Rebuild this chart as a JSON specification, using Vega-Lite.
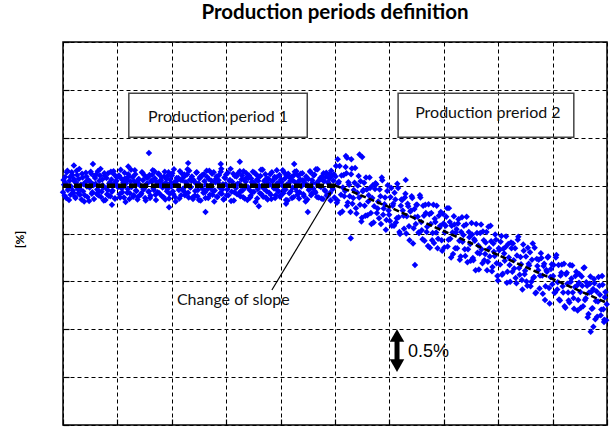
{
  "$schema": "https://vega.github.io/schema/vega-lite/v6.json",
  "width": 544,
  "height": 383,
  "autosize": {"type": "none"},
  "padding": {"left": 63, "top": 42, "right": 7, "bottom": 2},
  "background": "white",
  "title": {"text": "Production periods definition", "font": "Lato", "fontSize": 20.5, "fontWeight": "bold", "color": "#000", "anchor": "middle", "baseline": "alphabetic", "frame": "group", "offset": 2},
  "config": {
    "view": {"stroke": "#000", "strokeWidth": 1.5},
    "axis": {"grid": true, "gridColor": "#000", "gridDash": [4, 3], "gridWidth": 1, "gridOpacity": 1, "labels": false, "domain": false, "ticks": true, "tickSize": -6, "tickColor": "#000", "tickWidth": 1.2}
  },
  "datasets": {
    "pts": [
      {"x":0.01,"y":5.12},{"x":0.03,"y":4.79},{"x":0.05,"y":5.05},{"x":0.07,"y":5.28},{"x":0.09,"y":4.91},{"x":0.11,"y":4.70},{"x":0.13,"y":5.18},{"x":0.15,"y":4.98},{"x":0.17,"y":5.22},{"x":0.19,"y":4.85},
      {"x":0.21,"y":5.09},{"x":0.23,"y":4.74},{"x":0.25,"y":5.31},{"x":0.27,"y":4.93},{"x":0.29,"y":5.14},{"x":0.31,"y":4.81},{"x":0.33,"y":5.02},{"x":0.35,"y":5.25},{"x":0.37,"y":4.88},{"x":0.39,"y":4.67},
      {"x":0.41,"y":5.07},{"x":0.43,"y":5.19},{"x":0.45,"y":4.76},{"x":0.47,"y":5.11},{"x":0.49,"y":4.96},{"x":0.51,"y":5.29},{"x":0.53,"y":4.83},{"x":0.55,"y":5.03},{"x":0.57,"y":4.72},{"x":0.59,"y":5.16},
      {"x":0.61,"y":5.23},{"x":0.63,"y":4.92},{"x":0.65,"y":4.80},{"x":0.67,"y":5.10},{"x":0.69,"y":5.35},{"x":0.71,"y":4.87},{"x":0.73,"y":5.01},{"x":0.75,"y":4.69},{"x":0.77,"y":5.20},{"x":0.79,"y":4.95},
      {"x":0.81,"y":4.82},{"x":0.83,"y":5.26},{"x":0.85,"y":5.04},{"x":0.87,"y":4.78},{"x":0.89,"y":5.13},{"x":0.91,"y":4.90},{"x":0.93,"y":5.30},{"x":0.95,"y":4.73},{"x":0.97,"y":5.08},{"x":0.99,"y":5.17},
      {"x":1.01,"y":4.97},{"x":1.03,"y":5.21},{"x":1.05,"y":4.75},{"x":1.07,"y":5.15},{"x":1.09,"y":4.86},{"x":1.11,"y":5.06},{"x":1.13,"y":5.27},{"x":1.15,"y":4.66},{"x":1.17,"y":5.12},{"x":1.19,"y":4.93},
      {"x":1.21,"y":5.19},{"x":1.23,"y":4.84},{"x":1.25,"y":5.33},{"x":1.27,"y":4.99},{"x":1.29,"y":4.77},{"x":1.31,"y":5.09},{"x":1.33,"y":5.24},{"x":1.35,"y":4.89},{"x":1.37,"y":4.71},{"x":1.39,"y":5.14},
      {"x":1.41,"y":5.02},{"x":1.43,"y":4.81},{"x":1.45,"y":5.28},{"x":1.47,"y":5.11},{"x":1.49,"y":4.94},{"x":1.51,"y":4.74},{"x":1.53,"y":5.17},{"x":1.55,"y":5.05},{"x":1.57,"y":4.87},{"x":1.59,"y":5.22},
      {"x":1.61,"y":4.79},{"x":1.63,"y":5.08},{"x":1.65,"y":5.32},{"x":1.67,"y":4.91},{"x":1.69,"y":5.15},{"x":1.71,"y":4.70},{"x":1.73,"y":5.03},{"x":1.75,"y":5.25},{"x":1.77,"y":4.84},{"x":1.79,"y":5.10},
      {"x":1.81,"y":5.18},{"x":1.83,"y":4.96},{"x":1.85,"y":4.76},{"x":1.87,"y":5.29},{"x":1.89,"y":5.06},{"x":1.91,"y":4.88},{"x":1.93,"y":5.21},{"x":1.95,"y":4.73},{"x":1.97,"y":5.13},{"x":1.99,"y":4.98},
      {"x":2.01,"y":5.26},{"x":2.03,"y":4.82},{"x":2.05,"y":5.07},{"x":2.07,"y":4.67},{"x":2.09,"y":5.16},{"x":2.11,"y":5.01},{"x":2.13,"y":4.91},{"x":2.15,"y":5.30},{"x":2.17,"y":4.80},{"x":2.19,"y":5.11},
      {"x":2.21,"y":4.94},{"x":2.23,"y":5.23},{"x":2.25,"y":4.85},{"x":2.27,"y":5.04},{"x":2.29,"y":5.34},{"x":2.31,"y":4.75},{"x":2.33,"y":5.12},{"x":2.35,"y":4.97},{"x":2.37,"y":5.19},{"x":2.39,"y":4.72},
      {"x":2.41,"y":5.09},{"x":2.43,"y":4.89},{"x":2.45,"y":5.27},{"x":2.47,"y":4.78},{"x":2.49,"y":5.05},{"x":2.51,"y":5.15},{"x":2.53,"y":4.69},{"x":2.55,"y":5.20},{"x":2.57,"y":4.93},{"x":2.59,"y":5.24},
      {"x":2.61,"y":4.86},{"x":2.63,"y":5.02},{"x":2.65,"y":5.18},{"x":2.67,"y":4.74},{"x":2.69,"y":5.31},{"x":2.71,"y":4.95},{"x":2.73,"y":5.10},{"x":2.75,"y":4.81},{"x":2.77,"y":5.28},{"x":2.79,"y":4.90},
      {"x":2.81,"y":5.14},{"x":2.83,"y":4.77},{"x":2.85,"y":5.06},{"x":2.87,"y":5.22},{"x":2.89,"y":4.84},{"x":2.91,"y":5.35},{"x":2.93,"y":4.92},{"x":2.95,"y":4.71},{"x":2.97,"y":5.17},{"x":2.99,"y":5.03},
      {"x":3.01,"y":4.80},{"x":3.03,"y":5.27},{"x":3.05,"y":4.98},{"x":3.07,"y":5.12},{"x":3.09,"y":4.68},{"x":3.11,"y":5.08},{"x":3.13,"y":5.25},{"x":3.15,"y":4.86},{"x":3.17,"y":5.01},{"x":3.19,"y":5.19},
      {"x":3.21,"y":5.04},{"x":3.23,"y":4.83},{"x":3.25,"y":5.30},{"x":3.27,"y":4.89},{"x":3.29,"y":5.21},{"x":3.31,"y":4.76},{"x":3.33,"y":5.13},{"x":3.35,"y":4.96},{"x":3.37,"y":5.26},{"x":3.39,"y":4.70},
      {"x":3.41,"y":5.16},{"x":3.43,"y":4.91},{"x":3.45,"y":4.79},{"x":3.47,"y":5.07},{"x":3.49,"y":5.29},{"x":3.51,"y":4.87},{"x":3.53,"y":5.02},{"x":3.55,"y":5.23},{"x":3.57,"y":4.73},{"x":3.59,"y":5.10},
      {"x":3.61,"y":4.99},{"x":3.63,"y":5.20},{"x":3.65,"y":4.82},{"x":3.67,"y":5.33},{"x":3.69,"y":4.94},{"x":3.71,"y":5.11},{"x":3.73,"y":4.75},{"x":3.75,"y":5.15},{"x":3.77,"y":5.05},{"x":3.79,"y":4.85},
      {"x":3.81,"y":5.24},{"x":3.83,"y":4.72},{"x":3.85,"y":5.09},{"x":3.87,"y":4.97},{"x":3.89,"y":5.18},{"x":3.91,"y":4.80},{"x":3.93,"y":5.32},{"x":3.95,"y":4.90},{"x":3.97,"y":5.06},{"x":3.99,"y":4.77},
      {"x":4.01,"y":5.13},{"x":4.03,"y":5.00},{"x":4.05,"y":4.84},{"x":4.07,"y":5.27},{"x":4.09,"y":4.92},{"x":4.11,"y":5.21},{"x":4.13,"y":4.69},{"x":4.15,"y":5.04},{"x":4.17,"y":5.17},{"x":4.19,"y":4.88},
      {"x":4.21,"y":4.74},{"x":4.23,"y":5.10},{"x":4.25,"y":5.22},{"x":4.27,"y":4.95},{"x":4.29,"y":5.30},{"x":4.31,"y":4.81},{"x":4.33,"y":5.08},{"x":4.35,"y":4.86},{"x":4.37,"y":5.25},{"x":4.39,"y":5.01},
      {"x":4.41,"y":5.11},{"x":4.43,"y":4.78},{"x":4.45,"y":5.03},{"x":4.47,"y":5.19},{"x":4.49,"y":4.71},{"x":4.51,"y":5.14},{"x":4.53,"y":4.93},{"x":4.55,"y":5.28},{"x":4.57,"y":4.83},{"x":4.59,"y":5.06},
      {"x":4.61,"y":5.21},{"x":4.63,"y":4.88},{"x":4.65,"y":5.34},{"x":4.67,"y":4.76},{"x":4.69,"y":5.09},{"x":4.71,"y":4.99},{"x":4.73,"y":5.16},{"x":4.75,"y":4.73},{"x":4.77,"y":5.12},{"x":4.79,"y":5.26},
      {"x":4.81,"y":4.91},{"x":4.83,"y":5.18},{"x":4.85,"y":4.80},{"x":4.87,"y":5.07},{"x":4.89,"y":5.23},{"x":4.91,"y":4.85},{"x":4.93,"y":5.31},{"x":4.95,"y":4.96},{"x":4.97,"y":5.10},{"x":4.99,"y":4.75},
      {"x":0.00,"y":4.86},{"x":0.02,"y":5.02},{"x":0.04,"y":5.18},{"x":0.06,"y":4.74},{"x":0.08,"y":5.31},{"x":0.10,"y":4.95},{"x":0.12,"y":5.10},{"x":0.14,"y":4.81},{"x":0.16,"y":5.28},{"x":0.18,"y":4.90},
      {"x":0.20,"y":5.14},{"x":0.22,"y":4.77},{"x":0.24,"y":5.06},{"x":0.26,"y":5.22},{"x":0.28,"y":4.84},{"x":0.30,"y":5.35},{"x":0.32,"y":4.92},{"x":0.34,"y":4.71},{"x":0.36,"y":5.17},{"x":0.38,"y":5.03},
      {"x":0.40,"y":4.80},{"x":0.42,"y":5.27},{"x":0.44,"y":4.98},{"x":0.46,"y":5.12},{"x":0.48,"y":4.68},{"x":0.50,"y":5.08},{"x":0.52,"y":5.25},{"x":0.54,"y":4.86},{"x":0.56,"y":5.01},{"x":0.58,"y":5.19},
      {"x":0.60,"y":5.04},{"x":0.62,"y":4.83},{"x":0.64,"y":5.30},{"x":0.66,"y":4.89},{"x":0.68,"y":5.21},{"x":0.70,"y":4.76},{"x":0.72,"y":5.13},{"x":0.74,"y":4.96},{"x":0.76,"y":5.26},{"x":0.78,"y":4.70},
      {"x":0.80,"y":5.16},{"x":0.82,"y":4.91},{"x":0.84,"y":4.79},{"x":0.86,"y":5.07},{"x":0.88,"y":5.29},{"x":0.90,"y":4.87},{"x":0.92,"y":5.02},{"x":0.94,"y":5.23},{"x":0.96,"y":4.73},{"x":0.98,"y":5.10},
      {"x":1.00,"y":4.99},{"x":1.02,"y":5.20},{"x":1.04,"y":4.82},{"x":1.06,"y":5.33},{"x":1.08,"y":4.94},{"x":1.10,"y":5.11},{"x":1.12,"y":4.75},{"x":1.14,"y":5.15},{"x":1.16,"y":5.05},{"x":1.18,"y":4.85},
      {"x":1.20,"y":5.24},{"x":1.22,"y":4.72},{"x":1.24,"y":5.09},{"x":1.26,"y":4.97},{"x":1.28,"y":5.18},{"x":1.30,"y":4.80},{"x":1.32,"y":5.32},{"x":1.34,"y":4.90},{"x":1.36,"y":5.06},{"x":1.38,"y":4.77},
      {"x":1.40,"y":5.13},{"x":1.42,"y":5.00},{"x":1.44,"y":4.84},{"x":1.46,"y":5.27},{"x":1.48,"y":4.92},{"x":1.50,"y":5.21},{"x":1.52,"y":4.69},{"x":1.54,"y":5.04},{"x":1.56,"y":5.17},{"x":1.58,"y":4.88},
      {"x":1.60,"y":4.74},{"x":1.62,"y":5.10},{"x":1.64,"y":5.22},{"x":1.66,"y":4.95},{"x":1.68,"y":5.30},{"x":1.70,"y":4.81},{"x":1.72,"y":5.08},{"x":1.74,"y":4.86},{"x":1.76,"y":5.25},{"x":1.78,"y":5.01},
      {"x":1.80,"y":5.11},{"x":1.82,"y":4.78},{"x":1.84,"y":5.03},{"x":1.86,"y":5.19},{"x":1.88,"y":4.71},{"x":1.90,"y":5.14},{"x":1.92,"y":4.93},{"x":1.94,"y":5.28},{"x":1.96,"y":4.83},{"x":1.98,"y":5.06},
      {"x":2.00,"y":5.21},{"x":2.02,"y":4.88},{"x":2.04,"y":5.34},{"x":2.06,"y":4.76},{"x":2.08,"y":5.09},{"x":2.10,"y":4.99},{"x":2.12,"y":5.16},{"x":2.14,"y":4.73},{"x":2.16,"y":5.12},{"x":2.18,"y":5.26},
      {"x":2.20,"y":4.91},{"x":2.22,"y":5.18},{"x":2.24,"y":4.80},{"x":2.26,"y":5.07},{"x":2.28,"y":5.23},{"x":2.30,"y":4.85},{"x":2.32,"y":5.31},{"x":2.34,"y":4.96},{"x":2.36,"y":5.10},{"x":2.38,"y":4.75},
      {"x":2.40,"y":5.12},{"x":2.42,"y":4.79},{"x":2.44,"y":5.05},{"x":2.46,"y":5.28},{"x":2.48,"y":4.91},{"x":2.50,"y":4.70},{"x":2.52,"y":5.18},{"x":2.54,"y":4.98},{"x":2.56,"y":5.22},{"x":2.58,"y":4.85},
      {"x":2.60,"y":5.09},{"x":2.62,"y":4.74},{"x":2.64,"y":5.31},{"x":2.66,"y":4.93},{"x":2.68,"y":5.14},{"x":2.70,"y":4.81},{"x":2.72,"y":5.02},{"x":2.74,"y":5.25},{"x":2.76,"y":4.88},{"x":2.78,"y":4.67},
      {"x":2.80,"y":5.07},{"x":2.82,"y":5.19},{"x":2.84,"y":4.76},{"x":2.86,"y":5.11},{"x":2.88,"y":4.96},{"x":2.90,"y":5.29},{"x":2.92,"y":4.83},{"x":2.94,"y":5.03},{"x":2.96,"y":4.72},{"x":2.98,"y":5.16},
      {"x":3.00,"y":5.23},{"x":3.02,"y":4.92},{"x":3.04,"y":4.80},{"x":3.06,"y":5.10},{"x":3.08,"y":5.35},{"x":3.10,"y":4.87},{"x":3.12,"y":5.01},{"x":3.14,"y":4.69},{"x":3.16,"y":5.20},{"x":3.18,"y":4.95},
      {"x":3.20,"y":4.82},{"x":3.22,"y":5.26},{"x":3.24,"y":5.04},{"x":3.26,"y":4.78},{"x":3.28,"y":5.13},{"x":3.30,"y":4.90},{"x":3.32,"y":5.30},{"x":3.34,"y":4.73},{"x":3.36,"y":5.08},{"x":3.38,"y":5.17},
      {"x":3.40,"y":4.97},{"x":3.42,"y":5.21},{"x":3.44,"y":4.75},{"x":3.46,"y":5.15},{"x":3.48,"y":4.86},{"x":3.50,"y":5.06},{"x":3.52,"y":5.27},{"x":3.54,"y":4.66},{"x":3.56,"y":5.12},{"x":3.58,"y":4.93},
      {"x":3.60,"y":5.19},{"x":3.62,"y":4.84},{"x":3.64,"y":5.33},{"x":3.66,"y":4.99},{"x":3.68,"y":4.77},{"x":3.70,"y":5.09},{"x":3.72,"y":5.24},{"x":3.74,"y":4.89},{"x":3.76,"y":4.71},{"x":3.78,"y":5.14},
      {"x":3.80,"y":5.02},{"x":3.82,"y":4.81},{"x":3.84,"y":5.28},{"x":3.86,"y":5.11},{"x":3.88,"y":4.94},{"x":3.90,"y":4.74},{"x":3.92,"y":5.17},{"x":3.94,"y":5.05},{"x":3.96,"y":4.87},{"x":3.98,"y":5.22},
      {"x":4.00,"y":4.79},{"x":4.02,"y":5.08},{"x":4.04,"y":5.32},{"x":4.06,"y":4.91},{"x":4.08,"y":5.15},{"x":4.10,"y":4.70},{"x":4.12,"y":5.03},{"x":4.14,"y":5.25},{"x":4.16,"y":4.84},{"x":4.18,"y":5.10},
      {"x":4.20,"y":5.18},{"x":4.22,"y":4.96},{"x":4.24,"y":4.76},{"x":4.26,"y":5.29},{"x":4.28,"y":5.06},{"x":4.30,"y":4.88},{"x":4.32,"y":5.21},{"x":4.34,"y":4.73},{"x":4.36,"y":5.13},{"x":4.38,"y":4.98},
      {"x":4.40,"y":5.26},{"x":4.42,"y":4.82},{"x":4.44,"y":5.07},{"x":4.46,"y":4.67},{"x":4.48,"y":5.16},{"x":4.50,"y":5.01},{"x":4.52,"y":4.91},{"x":4.54,"y":5.30},{"x":4.56,"y":4.80},{"x":4.58,"y":5.11},
      {"x":4.60,"y":4.94},{"x":4.62,"y":5.23},{"x":4.64,"y":4.85},{"x":4.66,"y":5.04},{"x":4.68,"y":5.34},{"x":4.70,"y":4.75},{"x":4.72,"y":5.12},{"x":4.74,"y":4.97},{"x":4.76,"y":5.19},{"x":4.78,"y":4.72},
      {"x":4.80,"y":5.09},{"x":4.82,"y":4.89},{"x":4.84,"y":5.27},{"x":4.86,"y":4.78},{"x":4.88,"y":5.05},{"x":4.90,"y":5.15},{"x":4.92,"y":4.69},{"x":4.94,"y":5.20},{"x":4.96,"y":4.93},{"x":4.98,"y":5.24},
      {"x":1.58,"y":5.68},{"x":0.55,"y":5.45},{"x":0.2,"y":5.42},{"x":2.3,"y":5.47},{"x":3.25,"y":5.5},{"x":4.25,"y":5.45},{"x":4.5,"y":4.45},{"x":2.62,"y":4.45},{"x":1.95,"y":4.55},{"x":0.9,"y":4.6},{"x":3.6,"y":4.57},{"x":4.1,"y":4.62},{"x":2.9,"y":5.45},{"x":1.2,"y":5.4},
      {"x":5.010,"y":5.19},{"x":5.035,"y":4.64},{"x":5.060,"y":5.05},{"x":5.085,"y":5.41},{"x":5.110,"y":4.81},{"x":5.135,"y":4.46},{"x":5.160,"y":5.22},{"x":5.185,"y":4.89},{"x":5.210,"y":5.26},{"x":5.235,"y":4.65},
      {"x":5.260,"y":5.02},{"x":5.285,"y":4.45},{"x":5.310,"y":5.36},{"x":5.335,"y":4.74},{"x":5.360,"y":5.06},{"x":5.385,"y":4.53},{"x":5.410,"y":4.85},{"x":5.435,"y":5.20},{"x":5.460,"y":4.60},{"x":5.485,"y":4.25},
      {"x":5.510,"y":4.88},{"x":5.535,"y":5.06},{"x":5.560,"y":4.37},{"x":5.585,"y":4.92},{"x":5.610,"y":4.67},{"x":5.635,"y":5.17},{"x":5.660,"y":4.43},{"x":5.685,"y":4.74},{"x":5.710,"y":4.23},{"x":5.735,"y":4.93},
      {"x":5.760,"y":5.03},{"x":5.785,"y":4.52},{"x":5.810,"y":4.32},{"x":5.835,"y":4.78},{"x":5.860,"y":5.17},{"x":5.885,"y":4.39},{"x":5.910,"y":4.61},{"x":5.935,"y":4.08},{"x":5.960,"y":4.89},{"x":5.985,"y":4.48},
      {"x":6.010,"y":4.26},{"x":6.035,"y":4.95},{"x":6.060,"y":4.58},{"x":6.085,"y":4.16},{"x":6.110,"y":4.71},{"x":6.135,"y":4.32},{"x":6.160,"y":4.95},{"x":6.185,"y":4.03},{"x":6.210,"y":4.58},{"x":6.235,"y":4.70},
      {"x":6.260,"y":4.37},{"x":6.285,"y":4.75},{"x":6.310,"y":4.00},{"x":6.335,"y":4.62},{"x":6.360,"y":4.15},{"x":6.385,"y":4.46},{"x":6.410,"y":4.78},{"x":6.435,"y":3.79},{"x":6.460,"y":4.51},{"x":6.485,"y":4.20},
      {"x":6.510,"y":4.60},{"x":6.535,"y":4.02},{"x":6.560,"y":4.80},{"x":6.585,"y":4.24},{"x":6.610,"y":3.88},{"x":6.635,"y":4.37},{"x":6.660,"y":4.60},{"x":6.685,"y":4.03},{"x":6.710,"y":3.74},{"x":6.735,"y":4.40},
      {"x":6.760,"y":4.20},{"x":6.785,"y":3.86},{"x":6.810,"y":4.60},{"x":6.835,"y":4.31},{"x":6.860,"y":4.02},{"x":6.885,"y":3.69},{"x":6.910,"y":4.37},{"x":6.935,"y":4.16},{"x":6.960,"y":3.86},{"x":6.985,"y":4.41},
      {"x":7.010,"y":3.71},{"x":7.035,"y":4.16},{"x":7.060,"y":4.53},{"x":7.085,"y":3.87},{"x":7.110,"y":4.24},{"x":7.135,"y":3.50},{"x":7.160,"y":4.02},{"x":7.185,"y":4.36},{"x":7.210,"y":3.69},{"x":7.235,"y":4.09},
      {"x":7.260,"y":4.21},{"x":7.285,"y":3.85},{"x":7.310,"y":3.52},{"x":7.335,"y":4.34},{"x":7.360,"y":3.97},{"x":7.385,"y":3.67},{"x":7.410,"y":4.19},{"x":7.435,"y":3.40},{"x":7.460,"y":4.03},{"x":7.485,"y":3.78},
      {"x":7.510,"y":4.22},{"x":7.535,"y":3.49},{"x":7.560,"y":3.88},{"x":7.585,"y":3.23},{"x":7.610,"y":4.01},{"x":7.635,"y":3.75},{"x":7.660,"y":3.58},{"x":7.685,"y":4.19},{"x":7.710,"y":3.38},{"x":7.735,"y":3.86},
      {"x":7.760,"y":3.57},{"x":7.785,"y":4.03},{"x":7.810,"y":3.41},{"x":7.835,"y":3.69},{"x":7.860,"y":4.16},{"x":7.885,"y":3.21},{"x":7.910,"y":3.79},{"x":7.935,"y":3.53},{"x":7.960,"y":3.87},{"x":7.985,"y":3.11},
      {"x":8.010,"y":3.69},{"x":8.035,"y":3.35},{"x":8.060,"y":3.95},{"x":8.085,"y":3.16},{"x":8.110,"y":3.58},{"x":8.135,"y":3.72},{"x":8.160,"y":2.97},{"x":8.185,"y":3.78},{"x":8.210,"y":3.34},{"x":8.235,"y":3.81},
      {"x":8.260,"y":3.20},{"x":8.285,"y":3.44},{"x":8.310,"y":3.69},{"x":8.335,"y":2.96},{"x":8.360,"y":3.87},{"x":8.385,"y":3.28},{"x":8.410,"y":3.51},{"x":8.435,"y":3.03},{"x":8.460,"y":3.77},{"x":8.485,"y":3.15},
      {"x":8.510,"y":3.52},{"x":8.535,"y":2.91},{"x":8.560,"y":3.37},{"x":8.585,"y":3.61},{"x":8.610,"y":2.99},{"x":8.635,"y":3.79},{"x":8.660,"y":3.09},{"x":8.685,"y":2.75},{"x":8.710,"y":3.47},{"x":8.735,"y":3.23},
      {"x":8.760,"y":2.85},{"x":8.785,"y":3.59},{"x":8.810,"y":3.12},{"x":8.835,"y":3.32},{"x":8.860,"y":2.61},{"x":8.885,"y":3.24},{"x":8.910,"y":3.50},{"x":8.935,"y":2.86},{"x":8.960,"y":3.09},{"x":8.985,"y":3.36},
      {"x":9.010,"y":3.11},{"x":9.035,"y":2.76},{"x":9.060,"y":3.50},{"x":9.085,"y":2.83},{"x":9.110,"y":3.34},{"x":9.135,"y":2.60},{"x":9.160,"y":3.18},{"x":9.185,"y":2.90},{"x":9.210,"y":3.37},{"x":9.235,"y":2.45},
      {"x":9.260,"y":3.18},{"x":9.285,"y":2.77},{"x":9.310,"y":2.56},{"x":9.335,"y":2.99},{"x":9.360,"y":3.33},{"x":9.385,"y":2.65},{"x":9.410,"y":2.88},{"x":9.435,"y":3.20},{"x":9.460,"y":2.39},{"x":9.485,"y":2.97},
      {"x":9.510,"y":2.78},{"x":9.535,"y":3.10},{"x":9.560,"y":2.48},{"x":9.585,"y":3.29},{"x":9.610,"y":2.65},{"x":9.635,"y":2.91},{"x":9.660,"y":2.32},{"x":9.685,"y":2.95},{"x":9.710,"y":2.78},{"x":9.735,"y":2.44},
      {"x":9.760,"y":3.05},{"x":9.785,"y":2.21},{"x":9.810,"y":2.79},{"x":9.835,"y":2.58},{"x":9.860,"y":2.91},{"x":9.885,"y":2.29},{"x":9.910,"y":3.11},{"x":9.935,"y":2.42},{"x":9.960,"y":2.67},{"x":9.985,"y":2.19},
      {"x":5.020,"y":5.41},{"x":5.045,"y":4.69},{"x":5.070,"y":5.08},{"x":5.095,"y":4.43},{"x":5.120,"y":5.21},{"x":5.145,"y":4.96},{"x":5.170,"y":4.78},{"x":5.195,"y":5.39},{"x":5.220,"y":4.58},{"x":5.245,"y":5.07},
      {"x":5.270,"y":4.78},{"x":5.295,"y":5.24},{"x":5.320,"y":4.62},{"x":5.345,"y":4.91},{"x":5.370,"y":5.37},{"x":5.395,"y":4.42},{"x":5.420,"y":5.00},{"x":5.445,"y":4.75},{"x":5.470,"y":5.09},{"x":5.495,"y":4.33},
      {"x":5.520,"y":4.91},{"x":5.545,"y":4.58},{"x":5.570,"y":5.17},{"x":5.595,"y":4.38},{"x":5.620,"y":4.80},{"x":5.645,"y":4.95},{"x":5.670,"y":4.20},{"x":5.695,"y":5.01},{"x":5.720,"y":4.57},{"x":5.745,"y":5.05},
      {"x":5.770,"y":4.43},{"x":5.795,"y":4.67},{"x":5.820,"y":4.92},{"x":5.845,"y":4.20},{"x":5.870,"y":5.11},{"x":5.895,"y":4.52},{"x":5.920,"y":4.75},{"x":5.945,"y":4.28},{"x":5.970,"y":5.01},{"x":5.995,"y":4.39},
      {"x":6.020,"y":4.76},{"x":6.045,"y":4.16},{"x":6.070,"y":4.62},{"x":6.095,"y":4.85},{"x":6.120,"y":4.23},{"x":6.145,"y":5.04},{"x":6.170,"y":4.34},{"x":6.195,"y":3.99},{"x":6.220,"y":4.71},{"x":6.245,"y":4.48},
      {"x":6.270,"y":4.10},{"x":6.295,"y":4.83},{"x":6.320,"y":4.36},{"x":6.345,"y":4.57},{"x":6.370,"y":3.86},{"x":6.395,"y":4.48},{"x":6.420,"y":4.74},{"x":6.445,"y":4.11},{"x":6.470,"y":4.34},{"x":6.495,"y":4.60},
      {"x":6.520,"y":4.35},{"x":6.545,"y":4.01},{"x":6.570,"y":4.75},{"x":6.595,"y":4.07},{"x":6.620,"y":4.58},{"x":6.645,"y":3.85},{"x":6.670,"y":4.43},{"x":6.695,"y":4.14},{"x":6.720,"y":4.61},{"x":6.745,"y":3.70},
      {"x":6.770,"y":4.43},{"x":6.795,"y":4.01},{"x":6.820,"y":3.80},{"x":6.845,"y":4.24},{"x":6.870,"y":4.58},{"x":6.895,"y":3.89},{"x":6.920,"y":4.12},{"x":6.945,"y":4.45},{"x":6.970,"y":3.64},{"x":6.995,"y":4.21},
      {"x":7.020,"y":4.02},{"x":7.045,"y":4.35},{"x":7.070,"y":3.73},{"x":7.095,"y":4.53},{"x":7.120,"y":3.89},{"x":7.145,"y":4.16},{"x":7.170,"y":3.57},{"x":7.195,"y":4.19},{"x":7.220,"y":4.02},{"x":7.245,"y":3.69},
      {"x":7.270,"y":4.30},{"x":7.295,"y":3.45},{"x":7.320,"y":4.03},{"x":7.345,"y":3.83},{"x":7.370,"y":4.16},{"x":7.395,"y":3.53},{"x":7.420,"y":4.35},{"x":7.445,"y":3.67},{"x":7.470,"y":3.92},{"x":7.495,"y":3.43},
      {"x":7.520,"y":3.98},{"x":7.545,"y":3.44},{"x":7.570,"y":3.85},{"x":7.595,"y":4.20},{"x":7.620,"y":3.60},{"x":7.645,"y":3.25},{"x":7.670,"y":4.01},{"x":7.695,"y":3.67},{"x":7.720,"y":4.04},{"x":7.745,"y":3.44},
      {"x":7.770,"y":3.81},{"x":7.795,"y":3.23},{"x":7.820,"y":4.14},{"x":7.845,"y":3.52},{"x":7.870,"y":3.84},{"x":7.895,"y":3.30},{"x":7.920,"y":3.62},{"x":7.945,"y":3.98},{"x":7.970,"y":3.38},{"x":7.995,"y":3.02},
      {"x":8.020,"y":3.65},{"x":8.045,"y":3.83},{"x":8.070,"y":3.14},{"x":8.095,"y":3.68},{"x":8.120,"y":3.43},{"x":8.145,"y":3.94},{"x":8.170,"y":3.20},{"x":8.195,"y":3.50},{"x":8.220,"y":2.99},{"x":8.245,"y":3.69},
      {"x":8.270,"y":3.79},{"x":8.295,"y":3.27},{"x":8.320,"y":3.07},{"x":8.345,"y":3.54},{"x":8.370,"y":3.93},{"x":8.395,"y":3.14},{"x":8.420,"y":3.36},{"x":8.445,"y":2.83},{"x":8.470,"y":3.64},{"x":8.495,"y":3.22},
      {"x":8.520,"y":3.00},{"x":8.545,"y":3.70},{"x":8.570,"y":3.33},{"x":8.595,"y":2.90},{"x":8.620,"y":3.45},{"x":8.645,"y":3.07},{"x":8.670,"y":3.70},{"x":8.695,"y":2.77},{"x":8.720,"y":3.32},{"x":8.745,"y":3.45},
      {"x":8.770,"y":3.12},{"x":8.795,"y":3.49},{"x":8.820,"y":2.74},{"x":8.845,"y":3.37},{"x":8.870,"y":2.90},{"x":8.895,"y":3.20},{"x":8.920,"y":3.52},{"x":8.945,"y":2.54},{"x":8.970,"y":3.26},{"x":8.995,"y":2.94},
      {"x":9.020,"y":3.34},{"x":9.045,"y":2.77},{"x":9.070,"y":3.55},{"x":9.095,"y":2.98},{"x":9.120,"y":2.62},{"x":9.145,"y":3.12},{"x":9.170,"y":3.35},{"x":9.195,"y":2.77},{"x":9.220,"y":2.48},{"x":9.245,"y":3.15},
      {"x":9.270,"y":2.95},{"x":9.295,"y":2.60},{"x":9.320,"y":3.34},{"x":9.345,"y":3.06},{"x":9.370,"y":2.77},{"x":9.395,"y":2.43},{"x":9.420,"y":3.11},{"x":9.445,"y":2.91},{"x":9.470,"y":2.61},{"x":9.495,"y":3.15},
      {"x":9.520,"y":2.45},{"x":9.545,"y":2.91},{"x":9.570,"y":3.28},{"x":9.595,"y":2.61},{"x":9.620,"y":2.98},{"x":9.645,"y":2.25},{"x":9.670,"y":2.77},{"x":9.695,"y":3.10},{"x":9.720,"y":2.43},{"x":9.745,"y":2.84},
      {"x":9.770,"y":2.96},{"x":9.795,"y":2.59},{"x":9.820,"y":2.26},{"x":9.845,"y":3.09},{"x":9.870,"y":2.72},{"x":9.895,"y":2.41},{"x":9.920,"y":2.93},{"x":9.945,"y":2.15},{"x":9.970,"y":2.78},{"x":9.995,"y":2.52},
      {"x":5.2,"y":5.62},{"x":5.45,"y":5.65},{"x":5.5,"y":5.6},{"x":5.3,"y":5.55},{"x":5.05,"y":5.55},{"x":5.22,"y":5.58},{"x":5.29,"y":3.9},{"x":6.47,"y":3.34},{"x":9.7,"y":1.95},{"x":9.75,"y":2.05},{"x":9.95,"y":2.2},{"x":6.3,"y":5.12}
    ],
    "t1": [{"x":0,"y":5.0},{"x":5,"y":5.0}],
    "t2": [{"x":5,"y":5.0},{"x":5.3,"y":4.88},{"x":6,"y":4.55},{"x":7,"y":4.05},{"x":8,"y":3.55},{"x":9,"y":3.05},{"x":10,"y":2.55}],
    "boxes": [{"x1":1.21,"x2":4.49,"y1":6.01,"y2":6.93},{"x1":6.16,"x2":9.39,"y1":6.01,"y2":6.93}],
    "labels": [{"x":2.85,"y":6.43,"t":"Production period 1"},{"x":7.81,"y":6.51,"t":"Production preriod 2"}]
  },
  "encoding": {
    "x": {"field": "x", "type": "quantitative", "scale": {"domain": [0, 10], "nice": false, "zero": false}, "axis": {"values": [0,1,2,3,4,5,6,7,8,9,10], "title": null}},
    "y": {"field": "y", "type": "quantitative", "scale": {"domain": [0, 8], "nice": false, "zero": false}, "axis": {"values": [0,1,2,3,4,5,6,7,8], "title": "[%]", "titleFont": "Lato", "titleFontSize": 12, "titleFontWeight": "bold", "titleColor": "#000", "titleX": -44, "titleY": 197, "titleAngle": -90, "titleAlign": "center", "titleBaseline": "middle"}}
  },
  "layer": [
    {"data": {"name": "pts"}, "mark": {"type": "point", "shape": "diamond", "filled": true, "size": 42, "color": "#0000FF", "opacity": 1}},
    {"data": {"name": "t1"}, "mark": {"type": "line", "color": "#000", "strokeWidth": 4.5, "strokeDash": [8, 3]}},
    {"data": {"name": "t2"}, "mark": {"type": "line", "color": "#000", "strokeWidth": 2.5, "strokeDash": [6, 3]}},
    {"data": {"values": [{"x": 5}]}, "mark": {"type": "rule", "color": "#000", "strokeWidth": 2}, "encoding": {"x": {"field": "x", "type": "quantitative"}, "y": {"datum": 0}, "y2": {"datum": 8}}},
    {"data": {"name": "boxes"}, "mark": {"type": "rect", "fill": null, "stroke": "#444", "strokeWidth": 1.5}, "encoding": {"x": {"field": "x1", "type": "quantitative"}, "x2": {"field": "x2"}, "y": {"field": "y1", "type": "quantitative"}, "y2": {"field": "y2"}}},
    {"data": {"name": "labels"}, "mark": {"type": "text", "font": "Lato", "fontSize": 16, "color": "#111", "align": "center", "baseline": "middle"}, "encoding": {"text": {"field": "t"}}},
    {"data": {"values": [{"x": 3.84, "y": 2.82}, {"x": 4.91, "y": 4.84}]}, "mark": {"type": "line", "color": "#000", "strokeWidth": 1.2}},
    {"data": {"values": [{"x": 4.91, "y": 4.84}]}, "mark": {"type": "point", "shape": "triangle-up", "filled": true, "color": "#000", "size": 18, "angle": 31, "opacity": 1}},
    {"data": {"values": [{"x": 3.13, "y": 2.61, "t": "Change of slope"}]}, "mark": {"type": "text", "font": "Lato", "fontSize": 16, "color": "#111", "align": "center", "baseline": "middle"}, "encoding": {"text": {"field": "t"}}},
    {"data": {"values": [{"x": 6.14, "y": 1.25, "y2": 1.86}]}, "mark": {"type": "rule", "color": "#000", "strokeWidth": 5}, "encoding": {"y2": {"field": "y2"}}},
    {"data": {"values": [{"x": 6.14, "y": 1.87}]}, "mark": {"type": "point", "shape": "triangle-up", "filled": true, "color": "#000", "size": 210, "opacity": 1}},
    {"data": {"values": [{"x": 6.14, "y": 1.24}]}, "mark": {"type": "point", "shape": "triangle-down", "filled": true, "color": "#000", "size": 210, "opacity": 1}},
    {"data": {"values": [{"x": 6.34, "y": 1.52, "t": "0.5%"}]}, "mark": {"type": "text", "font": "Liberation Sans", "fontSize": 18, "color": "#000", "align": "left", "baseline": "middle"}, "encoding": {"text": {"field": "t"}}}
  ]
}
